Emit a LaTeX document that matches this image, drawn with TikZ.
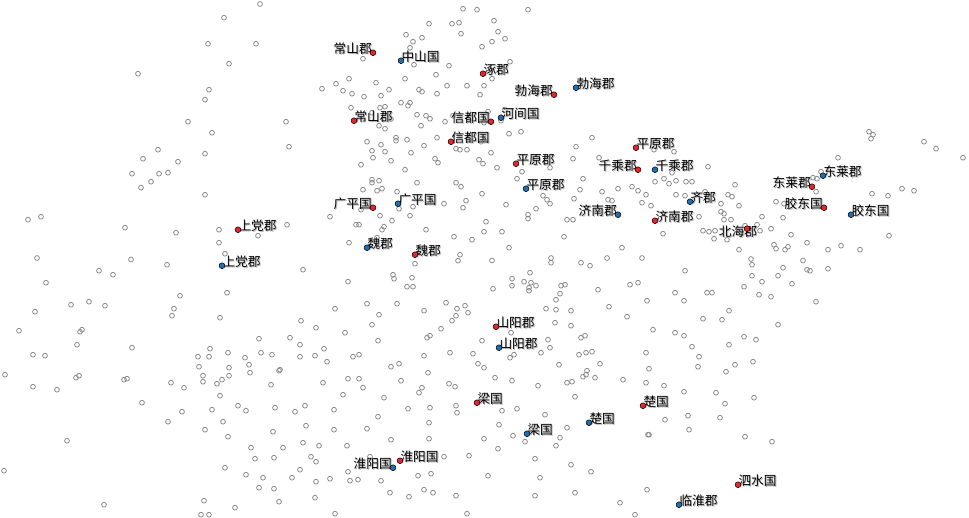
\documentclass[tikz,border=0pt]{standalone}
\usepackage{fontspec}
\setmainfont{Noto Sans CJK SC}
\definecolor{redpt}{RGB}{228,38,44}
\definecolor{bluept}{RGB}{31,111,176}
\definecolor{greypt}{RGB}{140,140,140}
\tikzset{
  gc/.style={draw=greypt,line width=0.8pt},
  rdot/.style={circle,fill=redpt,draw=black,line width=0.5pt,minimum size=5.8pt,inner sep=0pt},
  bdot/.style={circle,fill=bluept,draw=black,line width=0.5pt,minimum size=5.8pt,inner sep=0pt},
  lab/.style={inner sep=0pt,font=\fontsize{12.7}{14}\selectfont,text=black},
  labsh/.style={inner sep=0pt,font=\fontsize{12.7}{14}\selectfont,text=black!28}
}
\newcommand\plab[5]{% name, x, y, anchor, text
  \node[labsh,anchor=#4] (#1s) at (#2+0.9,#3+0.9) {#5};
  \node[lab,anchor=#4] (#1) at (#2,#3) {#5};}
\newcommand\rlab[4]{\plab{#1}{#2+0.3}{#3-3.7}{west}{#4}}
\newcommand\llab[4]{\plab{#1}{#2-1}{#3-3.7}{east}{#4}}
\begin{document}
\begin{tikzpicture}[x=1pt,y=-1pt]
\useasboundingbox[fill=white] (0,0) rectangle (969,517);
\foreach \px/\py in {
260/4, 224/17.7, 208/43.7, 256/43.7, 229/63.7, 138/73.7, 209/89.7, 322/88.7, 205/99.7, 188/121.7, 286/121.7, 212/132.7, 289/146.7, 158/149.7, 143/158.7, 178/161.7, 205/153.7, 132/173.7, 159/173.7, 168/172.7, 151/181.7, 141/187.7, 205/194.7, 28/219.7, 41/216.7, 125/227.7, 176/232.7, 219/229.7, 287/224.7, 258/235.7, 219/242.7, 225/253.7, 330/216.7,
37/258, 131/259.5, 167/264.7, 303/269.7, 99/270.7, 113/274.7, 46/282.7, 227/292.7, 180/295.7, 71/304.7, 89/301.7, 105/305.7, 174/308.7, 172/315.7, 35/311.7, 220/317.7, 301/320.7, 316/327.7, 19/330.7, 82/329.7, 80/331.7, 77/344.7, 132/347.7, 259/338.7, 290/337.7, 300/344.7, 324/348.7, 33/354.7, 45/355.7, 210/348.7, 198/356.7, 209/356.7, 228/352.7, 245/357.7, 261/352.7, 272/354.7, 300/356.7, 315/355.7, 327/361.7, 249/364.7, 199/366.7, 229/367.7, 280/369.7, 279/370.7, 5/374.7, 76/377.7, 79/375.7, 124/379.7, 127/378.7, 203/375.7, 203/381.7, 222/379.7, 217/383.7, 229/375.7, 250/372.7, 323/382.7, 171/382.7, 184/387.7, 271/384.7, 33/386.7, 57/389.7, 220/395.7, 142/402.7, 238/405.7, 212/409.7, 246/410.7, 275/407.7, 295/411.7, 305/405.7, 182/411.7, 168/421.7, 223/421.7, 205/429.7, 273/431.7, 306/425.7, 228/436.7, 67/440.7, 251/447.7, 283/447.7, 303/442.7, 319/445.7, 255/458.7, 274/457.7, 311/456.7, 316/461.7, 4/470.7, 225/467.7, 246/474.7, 263/477.7, 292/477.7, 300/469.7, 316/481.7, 330/478.7, 259/487.7, 274/488.7, 204/500.7, 235/507.7, 279/501.7, 315/497.7, 104/504.7, 201/514.7, 209/514.7,
463/8.7, 477/9.7, 528/9.7, 429/23.7, 452/23.7, 459/22.7, 494/20.7, 406/34.7, 422/37.7, 413/41.7, 461/33.7, 498/31.7, 505/38.7, 492/41.7, 482/46.7, 410/47.7, 363/58.7, 414/64.7, 449/65.7, 510/61.7, 492/78.7, 436/74.7, 405/78.7, 349/78.7, 336/83.7, 376/82.7, 343/90.7, 352/93.7, 364/96.7, 381/95.7, 389/89.7, 419/89.7, 422/91.7, 437/93.7, 447/85.7, 467/85.7, 484/85.7, 480/94.7, 351/107.7, 380/107.7, 385/106.7, 401/102.7, 410/102.7, 408/105.7, 372/112.7, 379/125.7, 385/128.7, 391/119, 417/114.7, 426/115.7, 430/118.7, 421/125.7, 445/121.7, 453/115.7, 484/122.7, 488/111.7, 505/109.7, 501/120.7, 509/133.7, 521/131.7, 592/137.7, 576/146.7, 367/141.7, 381/144.7, 396/137.7, 396/140.7, 407/139.7, 437/137.7, 424/145.7, 411/152.7, 372/150.7, 385/151.7, 373/157.7, 391/160.7, 361/164.7, 456/148.7, 460/149.7, 467/149.7, 481/141.7, 491/152.7, 479/159.7, 483/163.7, 435/158.7, 438/162.7, 497/167.7, 522/171.7, 517/178.7, 550/167.7, 573/158.7, 599/157.7, 405/169.7, 372/179.7, 379/180.7, 372/182.7, 363/189.7, 377/190.7, 382/188.7, 417/182.7, 397/191.7, 456/182.7, 461/186.7, 482/193.7, 543/195.7, 547/199.7, 550/203.7, 574/198.7, 580/189.7, 583/178.7, 602/191.7, 608/199.7, 612/200.7, 618/188.7, 632/186.7, 638/190.7, 646/194.7, 642/202.7, 361/209.7, 399/208.7, 413/206.7, 444/203.7, 466/200.7, 463/207.7, 506/204.7, 536/208.7, 528/214.7, 528/218.7, 380/215.7, 410/215.7, 392/220.7, 356/224.7, 359/224.7, 384/226.7, 382/229.7, 426/229.7, 486/221.7, 484/231.7, 502/231.7, 567/219.7, 573/219.7, 564/236.7, 454/236.7, 472/239.7, 377/237.7, 349/242.7, 509/247.7, 460/254.7, 492/260.5, 551/258, 607/258, 622/247.7, 642/258,
869/131.7, 873/134.7, 871/138.7, 924/141.7, 936/148.7, 963/157.7, 838/157.7, 654/149.7, 674/151.7, 672/172.7, 708/166.7, 655/181.7, 664/178.7, 669/183.7, 676/180.7, 686/181.7, 692/181.7, 676/194.7, 685/195.7, 705/191.7, 651/205.7, 721/203.7, 728/194.7, 732/196.7, 735/184.7, 739/205.7, 721/211.7, 724/213.7, 724/219.7, 731/219.7, 699/216.7, 663/233.7, 703/230.7, 709/231.7, 715/230.7, 714/238.7, 727/239.7, 745/225.7, 757/224.7, 760/230.7, 762/216.7, 771/228.7, 776/201.7, 784/203.7, 783/217.7, 791/234.7, 774/244.7, 776/248.7, 785/249.7, 788/246.7, 807/242.7, 828/249.7, 841/245.7, 860/249.7, 889/235.7, 872/193.7, 888/195.7, 902/188.7, 914/190.7, 739/249.7, 751/259, 803/260.5, 816/191.7, 813/177.7, 817/178.7, 821/171.7,
415/263.7, 458/260.7, 581/262.7, 590/265.7, 551/262.7, 348/281.7, 393/274.7, 394/278.7, 412/277.7, 407/286.7, 413/286.7, 512/278.7, 512/285.7, 524/281.7, 530/272.7, 531/282.7, 529/287.7, 529/290.7, 536/285.7, 493/288.7, 561/285.7, 565/284.7, 560/293.7, 556/299.7, 598/289.7, 630/284.7, 638/282.7, 647/300.7, 335/308.7, 367/303.7, 379/314.7, 397/303.7, 424/310.7, 446/302.7, 457/308.7, 456/315.7, 452/320.7, 465/305.7, 468/312.7, 546/308.7, 556/309.7, 571/310.7, 555/322.7, 571/325.7, 609/306.7, 627/316.7, 372/324.7, 345/332.7, 378/340.7, 441/328.7, 427/337.7, 430/335.7, 511/332.7, 482/340.7, 548/339.7, 550/347.7, 541/352.7, 581/337.7, 585/335.7, 579/354.7, 586/352.7, 592/351.7, 600/363.7, 646/352.7, 353/356.7, 359/354.7, 424/355.7, 450/352.7, 473/353.7, 478/363.7, 484/367.7, 510/357.7, 514/354.7, 559/364.7, 391/366.7, 399/363.7, 428/372.7, 348/378.7, 359/378.7, 363/387.7, 401/380.7, 449/383.7, 455/386.7, 422/387.7, 419/392.7, 495/377.7, 512/380.7, 538/385.7, 567/382.7, 572/381.7, 583/376.7, 586/374.7, 587/370.7, 595/377.7, 623/379.7, 646/382.7, 649/368.7, 575/396.7, 343/394.7, 384/397.7, 334/409.7, 378/416.7, 408/408.7, 430/407.7, 456/405.7, 457/412.7, 502/410.7, 517/408.7, 545/414.7, 367/428.7, 334/429.7, 429/422.7, 499/424.7, 567/427.7, 560/437.7, 556/445.7, 513/435.7, 525/441.7, 484/438.7, 429/438.7, 391/439.7, 347/445.7, 648/434.7, 498/448.7, 370/456.7, 444/456.7, 469/455.7, 535/458.7, 571/464.7, 591/471.7, 348/471.7, 350/480.7, 358/479.7, 381/480.7, 418/475.7, 431/473.7, 488/475.7, 540/477.7, 424/489.7, 433/492.7, 390/492.7, 409/496.7, 456/495.7, 535/495.7, 575/492.7, 620/502.7, 647/489.7, 335/513.7, 467/513.7, 635/514.7,
752/264.7, 685/270.7, 783/267.7, 807/269.7, 810/270.7, 828/268.7, 752/275.7, 762/281.7, 778/275.7, 792/283.7, 744/286.7, 675/292.7, 707/292.7, 712/292.7, 684/300.7, 759/294.7, 771/296.7, 816/301.7, 729/310.7, 703/318.7, 722/319.7, 778/324.7, 653/329.7, 675/332.7, 684/335.7, 692/346.7, 729/344.7, 744/336.7, 756/339.7, 699/356.7, 698/366.7, 726/371.7, 735/364.7, 753/361.7, 664/385.7, 684/391.7, 716/392.7, 725/403.7, 754/397.7, 665/419.7, 688/415.7, 720/417.7, 689/429.7, 745/436.7, 772/441.7, 649/434.7
}{ \draw[gc] (\px,\py) circle[radius=2.4pt]; }
% labels
\llab{lr1}{373}{52.7}{常山郡}
\rlab{lr2}{483}{73.7}{涿郡}
\llab{lr3}{554}{94.7}{勃海郡}
\rlab{lr4}{354}{120.7}{常山郡}
\llab{lr5}{491}{121.7}{信都国}
\rlab{lr6}{451}{141.7}{信都国}
\rlab{lr7}{636}{147.7}{平原郡}
\rlab{lr8}{516}{163.7}{平原郡}
\llab{lr9}{638}{169.7}{千乘郡}
\llab{lr10}{812}{186.7}{东莱郡}
\llab{lr11}{824}{207.7}{胶东国}
\rlab{lr12}{655}{220.7}{济南郡}
\plab{lr13}{738}{231.7}{center}{北海郡}
\llab{lr14}{373}{207.7}{广平国}
\rlab{lr15}{238}{229.7}{上党郡}
\rlab{lr16}{415}{254.7}{魏郡}
\rlab{lr17}{496}{326.7}{山阳郡}
\rlab{lr18}{477}{402.7}{梁国}
\rlab{lr19}{643}{405.7}{楚国}
\rlab{lr20}{400}{460.7}{淮阳国}
\rlab{lr21}{738}{484.7}{泗水国}
\rlab{lb1}{401}{60.7}{中山国}
\rlab{lb2}{576}{87.7}{勃海郡}
\rlab{lb3}{501}{117.7}{河间国}
\rlab{lb4}{655}{169.7}{千乘郡}
\rlab{lb5}{526}{188.7}{平原郡}
\rlab{lb6}{823}{175.7}{东莱郡}
\rlab{lb7}{690}{201.7}{齐郡}
\rlab{lb8}{851}{214.7}{胶东国}
\llab{lb9}{618}{214.7}{济南郡}
\rlab{lb10}{398}{203.7}{广平国}
\rlab{lb11}{222}{265.7}{上党郡}
\rlab{lb12}{367}{247.7}{魏郡}
\rlab{lb13}{499}{347.7}{山阳郡}
\rlab{lb14}{589}{422.7}{楚国}
\rlab{lb15}{527}{433.7}{梁国}
\llab{lb16}{393}{467.7}{淮阳国}
\rlab{lb17}{679}{504.7}{临淮郡}
% dots
\node[rdot] (r1) at (373,52.7) {};
\node[rdot] (r2) at (483,73.7) {};
\node[rdot] (r3) at (554,94.7) {};
\node[rdot] (r4) at (354,120.7) {};
\node[rdot] (r5) at (491,121.7) {};
\node[rdot] (r6) at (451,141.7) {};
\node[rdot] (r7) at (636,147.7) {};
\node[rdot] (r8) at (516,163.7) {};
\node[rdot] (r9) at (638,169.7) {};
\node[rdot] (r10) at (812,186.7) {};
\node[rdot] (r11) at (824,207.7) {};
\node[rdot] (r12) at (655,220.7) {};
\node[rdot] (r13) at (747,228.7) {};
\node[rdot] (r14) at (373,207.7) {};
\node[rdot] (r15) at (238,229.7) {};
\node[rdot] (r16) at (415,254.7) {};
\node[rdot] (r17) at (496,326.7) {};
\node[rdot] (r18) at (477,402.7) {};
\node[rdot] (r19) at (643,405.7) {};
\node[rdot] (r20) at (400,460.7) {};
\node[rdot] (r21) at (738,484.7) {};
\node[bdot] (b1) at (401,60.7) {};
\node[bdot] (b2) at (576,87.7) {};
\node[bdot] (b3) at (501,117.7) {};
\node[bdot] (b4) at (655,169.7) {};
\node[bdot] (b5) at (526,188.7) {};
\node[bdot] (b6) at (823,175.7) {};
\node[bdot] (b7) at (690,201.7) {};
\node[bdot] (b8) at (851,214.7) {};
\node[bdot] (b9) at (618,214.7) {};
\node[bdot] (b10) at (398,203.7) {};
\node[bdot] (b11) at (222,265.7) {};
\node[bdot] (b12) at (367,247.7) {};
\node[bdot] (b13) at (499,347.7) {};
\node[bdot] (b14) at (589,422.7) {};
\node[bdot] (b15) at (527,433.7) {};
\node[bdot] (b16) at (393,467.7) {};
\node[bdot] (b17) at (679,504.7) {};
\end{tikzpicture}
\end{document}
